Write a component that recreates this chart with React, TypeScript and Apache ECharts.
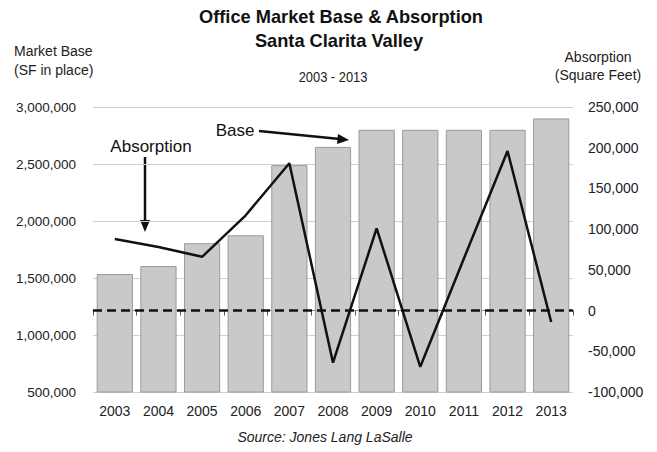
import React, { useEffect, useRef } from "react";
import * as echarts from "echarts";

const years = ["2003", "2004", "2005", "2006", "2007", "2008", "2009", "2010", "2011", "2012", "2013"];
const marketBase = [1535000, 1605000, 1805000, 1875000, 2490000, 2650000, 2800000, 2800000, 2800000, 2800000, 2900000];
const absorption = [88000, 78000, 66000, 117000, 181000, -64000, 101000, -69000, 64000, 196000, -14000];
const leftTicks = { min: 500000, max: 3000000, interval: 500000 };
const rightTicks = { min: -100000, max: 250000, interval: 50000 };

const FONT = "'Liberation Sans', Arial, sans-serif";
const fmt = (v: number) => v.toLocaleString("en-US");

export default function App() {
  const ref = useRef<HTMLDivElement>(null);
  useEffect(() => {
    if (!ref.current) return;
    const chart = echarts.init(ref.current, null, { renderer: "svg" });
    chart.setOption({
      animation: false,
      backgroundColor: "#fff",
      textStyle: { fontFamily: FONT },
      graphic: [
        { type: "text", x: 341, y: 16, scaleX: 0.96, style: { text: "Office Market Base & Absorption", font: `bold 19px ${FONT}`, fill: "#111", align: "center", verticalAlign: "middle" } },
        { type: "text", x: 339, y: 40, scaleX: 0.96, style: { text: "Santa Clarita Valley", font: `bold 19px ${FONT}`, fill: "#111", align: "center", verticalAlign: "middle" } },
        { type: "text", x: 14, y: 51, style: { text: "Market Base", font: `14px ${FONT}`, fill: "#222", verticalAlign: "middle" } },
        { type: "text", x: 14, y: 70, style: { text: "(SF in place)", font: `14px ${FONT}`, fill: "#222", verticalAlign: "middle" } },
        { type: "text", x: 598, y: 57, style: { text: "Absorption", font: `14px ${FONT}`, fill: "#222", align: "center", verticalAlign: "middle" } },
        { type: "text", x: 598, y: 75, style: { text: "(Square Feet)", font: `14px ${FONT}`, fill: "#222", align: "center", verticalAlign: "middle" } },
        { type: "text", x: 333, y: 77, scaleX: 0.92, style: { text: "2003 - 2013", font: `14px ${FONT}`, fill: "#222", align: "center", verticalAlign: "middle" } },
        { type: "text", x: 325, y: 437, style: { text: "Source: Jones Lang LaSalle", font: `italic 14px ${FONT}`, fill: "#222", align: "center", verticalAlign: "middle" } },
        { type: "text", x: 151, y: 146, style: { text: "Absorption", font: `17px ${FONT}`, fill: "#111", align: "center", verticalAlign: "middle" } },
        { type: "line", shape: { x1: 145, y1: 157, x2: 145, y2: 222 }, style: { stroke: "#111", lineWidth: 2.5 } },
        { type: "polygon", shape: { points: [[140, 220], [150, 220], [145, 232]] }, style: { fill: "#111" } },
        { type: "text", x: 235, y: 130, style: { text: "Base", font: `17px ${FONT}`, fill: "#111", align: "center", verticalAlign: "middle" } },
        { type: "line", shape: { x1: 259, y1: 131, x2: 340, y2: 139 }, style: { stroke: "#111", lineWidth: 2.5 } },
        { type: "polygon", shape: { points: [[338, 134], [337, 144], [349, 140]] }, style: { fill: "#111" } },
      ],
      grid: { left: 93, right: 84, top: 107, bottom: 60, containLabel: false },
      xAxis: {
        type: "category",
        data: years,
        axisLine: { show: true, lineStyle: { color: "#888" } },
        axisTick: { show: true, alignWithLabel: false, lineStyle: { color: "#555" } },
        axisLabel: { fontFamily: FONT, fontSize: 14, color: "#222", margin: 12 },
      },
      yAxis: [
        {
          type: "value",
          min: leftTicks.min,
          max: leftTicks.max,
          interval: leftTicks.interval,
          position: "left",
          axisLine: { show: false },
          axisTick: { show: false },
          splitLine: { show: true, lineStyle: { color: "#cfcfcf", width: 1 } },
          axisLabel: { fontFamily: FONT, fontSize: 13.5, color: "#222", margin: 17, formatter: (v: number) => fmt(v) },
        },
        {
          type: "value",
          min: rightTicks.min,
          max: rightTicks.max,
          interval: rightTicks.interval,
          position: "right",
          axisLine: { show: false },
          axisTick: { show: false },
          splitLine: { show: false },
          axisLabel: { fontFamily: FONT, fontSize: 14, color: "#222", margin: 15, formatter: (v: number) => fmt(v) },
        },
      ],
      series: [
        {
          type: "bar",
          name: "Base",
          data: marketBase,
          yAxisIndex: 0,
          barCategoryGap: "17%",
          itemStyle: { color: "#c9c9c9", borderColor: "#9a9a9a", borderWidth: 1 },
          z: 2,
        },
        {
          type: "line",
          name: "Absorption",
          data: absorption,
          yAxisIndex: 1,
          symbol: "none",
          lineStyle: { color: "#111", width: 2.5 },
          z: 4,
          markLine: {
            silent: true,
            symbol: ["none", "none"],
            label: { show: false },
            lineStyle: { color: "#111", width: 2.5, type: [9, 5] },
            data: [{ yAxis: 0 }],
          },
        },
      ],
    });
    return () => chart.dispose();
  }, []);
  return <div ref={ref} style={{ position: "absolute", left: 0, top: 0, width: 657, height: 452 }} />;
}
